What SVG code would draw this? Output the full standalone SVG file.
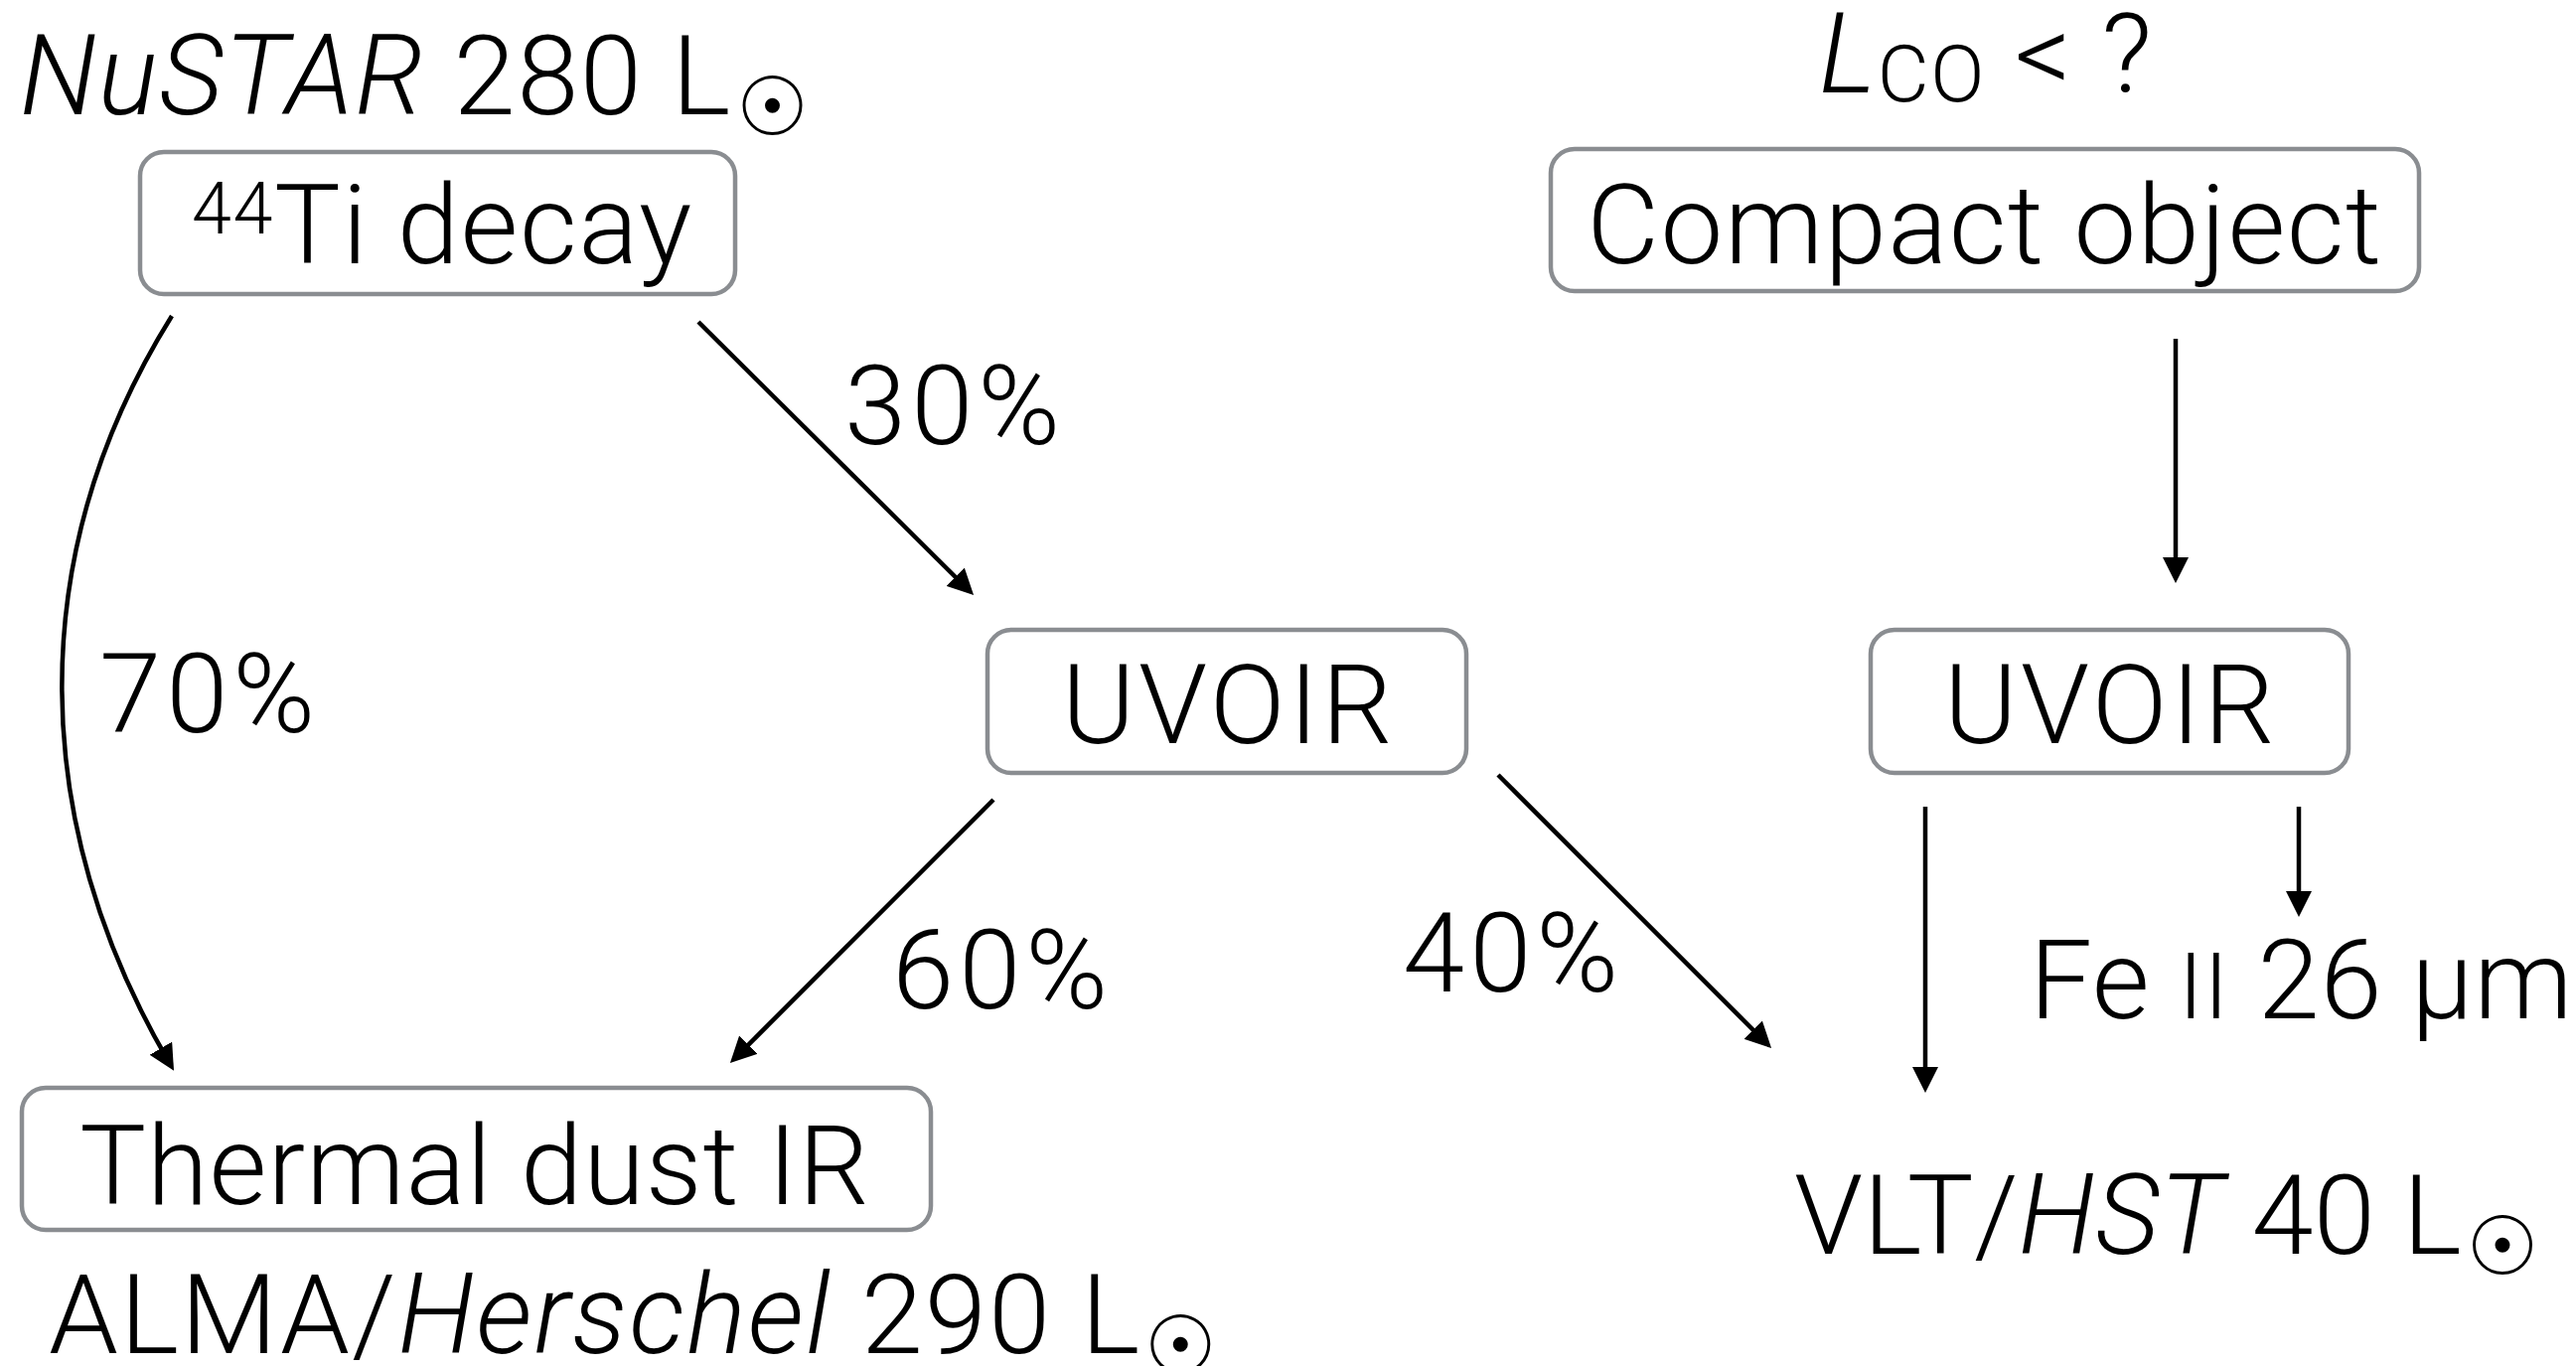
<svg xmlns="http://www.w3.org/2000/svg" width="2593" height="1375" viewBox="0 0 2593 1375">
<defs>
<style>
text{font-family:Roboto,"Liberation Sans",Arial,sans-serif;font-weight:300;fill:#000;font-size:112px;letter-spacing:1.5px}
.box{fill:#fff;stroke:#8a8d91;stroke-width:4.5}
.edge{fill:none;stroke:#000;stroke-width:4.5}
.it{font-style:italic}
.pct{letter-spacing:5px}
.sun{font-family:"DejaVu Sans",sans-serif;font-weight:normal;font-size:82px;letter-spacing:0}
</style>
<marker id="ah" viewBox="0 0 26 26" refX="16" refY="13" markerWidth="26" markerHeight="26" markerUnits="userSpaceOnUse" orient="auto">
<path d="M0,0 L26,13 L0,26 z" fill="#000"/>
</marker>
</defs>
<rect width="2593" height="1375" fill="#fff"/>
<g id="connectors">
<path class="edge" d="M173,318 C22,560 30,830 170,1069" marker-end="url(#ah)"/>
<line class="edge" x1="703" y1="324" x2="973" y2="592" marker-end="url(#ah)"/>
<line class="edge" x1="1000" y1="805" x2="742" y2="1063" marker-end="url(#ah)"/>
<line class="edge" x1="1508" y1="780" x2="1776" y2="1048" marker-end="url(#ah)"/>
<line class="edge" x1="2190" y1="341" x2="2190" y2="577" marker-end="url(#ah)"/>
<line class="edge" x1="1938" y1="812" x2="1938" y2="1090" marker-end="url(#ah)"/>
<line class="edge" x1="2314" y1="812" x2="2314" y2="913" marker-end="url(#ah)"/>
<text class="pct" x="850" y="447">30%</text>
<text class="pct" x="100" y="737">70%</text>
<text class="pct" x="898" y="1015">60%</text>
<text class="pct" x="1412" y="998">40%</text>
</g>
<g id="ti">
<text x="20" y="115"><tspan class="it">NuSTAR</tspan> 280 L<tspan class="sun" dx="4" dy="21">☉</tspan></text>
<rect class="box" x="141" y="153" width="599" height="143" rx="24"/>
<text x="193" y="265"><tspan font-size="72" dy="-30">44</tspan><tspan x="276" dy="30">Ti decay</tspan></text>
</g>
<g id="compact">
<text x="1831" y="93"><tspan class="it">L</tspan><tspan font-size="80" dy="9">CO</tspan><tspan dy="-9"> &lt; ?</tspan></text>
<rect class="box" x="1561" y="150" width="874" height="143" rx="24"/>
<text x="1998" y="265" text-anchor="middle">Compact object</text>
</g>
<g id="uvoir1">
<rect class="box" x="994" y="634" width="482" height="144" rx="24"/>
<text x="1237" y="748" text-anchor="middle" style="letter-spacing:3.5px">UVOIR</text>
</g>
<g id="uvoir2">
<rect class="box" x="1883" y="634" width="481" height="144" rx="24"/>
<text x="2125" y="748" text-anchor="middle" style="letter-spacing:3.5px">UVOIR</text>
</g>
<g id="dust">
<rect class="box" x="22" y="1095" width="915" height="143" rx="24"/>
<text x="478" y="1212" text-anchor="middle" style="letter-spacing:1px">Thermal dust IR</text>
<text x="49" y="1362" style="letter-spacing:2px">ALMA/<tspan class="it">Herschel</tspan> 290 L<tspan class="sun" dx="2" dy="21">☉</tspan></text>
</g>
<g id="vlt">
<text x="1806" y="1262" style="letter-spacing:0.3px">VLT/<tspan class="it">HST</tspan> 40 L<tspan class="sun" dx="4" dy="21">☉</tspan></text>
</g>
<g id="fe">
<text x="2043" y="1025" style="letter-spacing:1px">Fe <tspan font-size="92">II</tspan> 26 μm</text>
</g>
</svg>
